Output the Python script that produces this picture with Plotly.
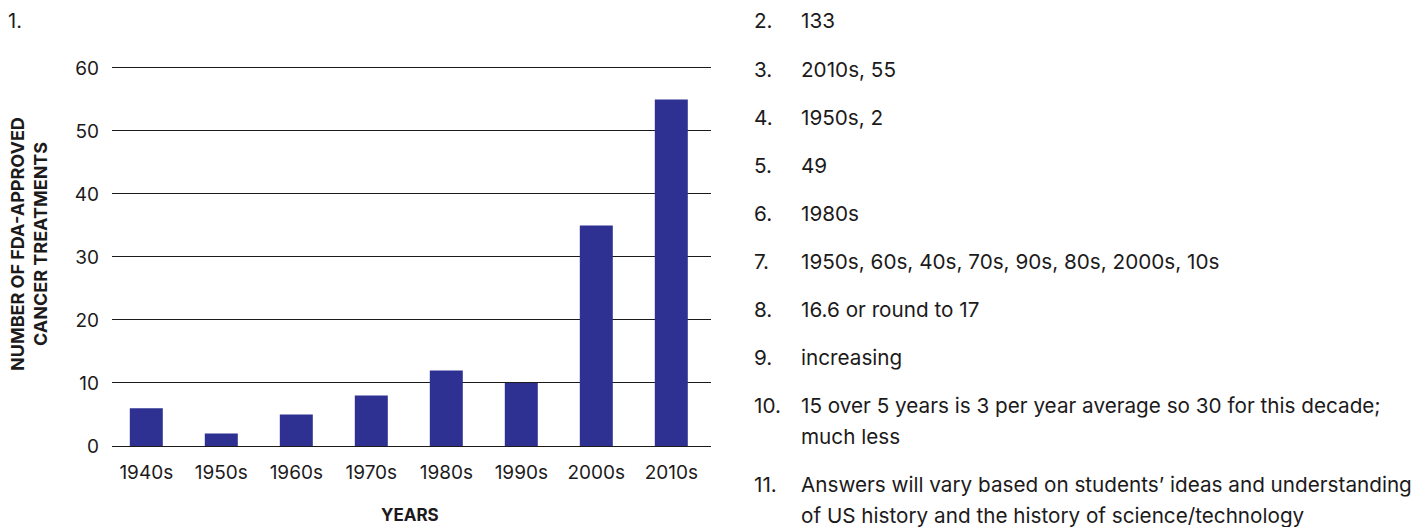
import plotly.graph_objects as go

# ---- data ----
decades = ["1940s", "1950s", "1960s", "1970s", "1980s", "1990s", "2000s", "2010s"]
treatments = [6, 2, 5, 8, 12, 10, 35, 55]
y_ticks = [0, 10, 20, 30, 40, 50, 60]

answer_numbers = ["2.", "3.", "4.", "5.", "6.", "7.", "8.", "9.", "10.", "11."]
answer_lines = [
    ["133"],
    ["2010s, 55"],
    ["1950s, 2"],
    ["49"],
    ["1980s"],
    ["1950s, 60s, 40s, 70s, 90s, 80s, 2000s, 10s"],
    ["16.6 or round to 17"],
    ["increasing"],
    ["15 over 5 years is 3 per year average so 30 for this decade;", "much less"],
    ["Answers will vary based on students\u2019 ideas and understanding",
     "of US history and the history of science/technology"],
]

# ---- layout constants ----
W, H = 1427, 527
L, R, T, B = 112, 711, 66, 446
YMAX = 60.3
PW, PH = R - L, B - T
FONT = "Inter"
TXT = "#1c1a1b"
BAR = "#2e3192"


def px(xp):
    return (xp - L) / PW


def py(yp):
    return (B - yp) / PH


fig = go.Figure()
fig.add_trace(go.Bar(
    x=list(range(len(decades))), y=treatments, width=0.44,
    marker=dict(color=BAR, line=dict(width=0)),
    hoverinfo="x+y", showlegend=False,
))

ann = []
ann.append(dict(x=px(6), y=py(21), text="1.", xanchor="left", yanchor="middle",
                font=dict(size=20, color=TXT, family=FONT)))
ann.append(dict(x=px(17), y=py(244), text="<b>NUMBER OF FDA-APPROVED</b>", textangle=-90,
                xanchor="center", yanchor="middle", font=dict(size=18, color=TXT, family=FONT)))
ann.append(dict(x=px(40), y=py(244), text="<b>CANCER TREATMENTS</b>", textangle=-90,
                xanchor="center", yanchor="middle", font=dict(size=18, color=TXT, family=FONT)))
ann.append(dict(x=px(410), y=py(515), text="<b>YEARS</b>", xanchor="center", yanchor="middle",
                font=dict(size=17, color=TXT, family=FONT)))

row_y = 21
for num, lines in zip(answer_numbers, answer_lines):
    ann.append(dict(x=px(752), y=py(row_y), text=num, xanchor="left", yanchor="middle",
                    font=dict(size=20.7, color=TXT, family=FONT)))
    ly = row_y
    for line in lines:
        ann.append(dict(x=px(799), y=py(ly), text=line, xanchor="left", yanchor="middle",
                        font=dict(size=20.7, color=TXT, family=FONT)))
        ly += 31
    row_y = ly - 31 + 48

for a in ann:
    a.update(xref="paper", yref="paper", showarrow=False)

fig.update_layout(
    width=W, height=H,
    margin=dict(l=L, r=W - R, t=T, b=H - B, pad=0),
    paper_bgcolor="white", plot_bgcolor="white",
    font=dict(family=FONT, color=TXT, size=19),
    annotations=ann,
    xaxis=dict(
        tickmode="array", tickvals=list(range(len(decades))), ticktext=decades,
        range=[(L - 146.3) / 75, (R - 146.3) / 75],
        showgrid=False, zeroline=False, showline=False, ticks="",
        ticklabelstandoff=13, tickfont=dict(size=19, color=TXT, family=FONT),
        fixedrange=True,
    ),
    yaxis=dict(
        range=[0, YMAX], tickmode="array", tickvals=y_ticks,
        showgrid=True, gridcolor=TXT, gridwidth=1.2,
        zeroline=True, zerolinecolor=TXT, zerolinewidth=1.2,
        showline=False, ticks="", ticklabelstandoff=12,
        tickfont=dict(size=19, color=TXT, family=FONT),
        fixedrange=True,
    ),
    bargap=0.56,
)

fig.write_html("out.html", include_plotlyjs=True,
               post_script="document.body.style.margin='0';",
               config={"displayModeBar": False})
